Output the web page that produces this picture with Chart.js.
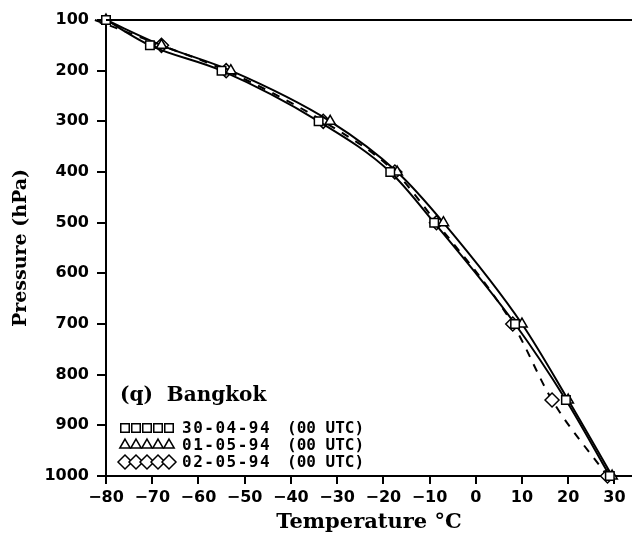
<!DOCTYPE html>
<html>
<head>
<meta charset="utf-8">
<script src="https://cdn.jsdelivr.net/npm/chart.js@4/dist/chart.umd.min.js"></script>
<style>
html,body{margin:0;padding:0;background:#fff;}
#wrap{width:632px;height:539px;position:relative;}
</style>
</head>
<body>
<div id="wrap"><canvas id="c" width="632" height="539"></canvas></div>
<script>
// Pressure levels (hPa)
const pressure = [100, 150, 200, 300, 400, 500, 700, 850, 1000];
// Temperatures (°C) per sounding
const temp_30_04_94 = [-80, -70.5, -55, -34, -18.5, -9, 8.5, 19.5, 29];
const temp_01_05_94 = [-80, -68, -53, -31.5, -17, -7, 10, 20, 29.5];
const temp_02_05_94 = [-82.4, -68, -54, -33, -17.5, -8.5, 8, 16.5, 28.5];
const seriesLabels = ['30-04-94', '01-05-94', '02-05-94'];
const xTickValues = [-80, -70, -60, -50, -40, -30, -20, -10, 0, 10, 20, 30];
const stationLabel = '(q)  Bangkok';

function pts(arr){ return arr.map((t,i)=>({x:t, y:pressure[i]})); }

const topLine = {
  id:'topLine',
  afterDatasetsDraw(chart){
    const {ctx, chartArea:a} = chart;
    ctx.save();
    ctx.strokeStyle='#000'; ctx.lineWidth=2;
    ctx.beginPath(); ctx.moveTo(a.left, a.top); ctx.lineTo(a.right, a.top); ctx.stroke();
    ctx.restore();
  }
};

const inLegend = {
  id:'inLegend',
  afterDraw(chart){
    const ctx = chart.ctx;
    ctx.save();
    ctx.fillStyle='#000';
    ctx.textBaseline='alphabetic';
    ctx.font='bold 20px "DejaVu Serif"';
    ctx.fillText(stationLabel, 120, 401);
    const rowsY=[428,445,462];
    chart.data.datasets.forEach((ds,i)=>{
      const y=rowsY[i];
      ctx.strokeStyle='#000'; ctx.fillStyle='#fff'; ctx.lineWidth=1.5;
      for(let k=0;k<5;k++){
        Chart.helpers.drawPoint(ctx,{pointStyle:ds.pointStyle, radius:ds.pointStyle==='rectRot'?7:6, borderWidth:1.5}, 125+k*11, y);
      }
      ctx.fillStyle='#000';
      ctx.textBaseline='middle';
      ctx.font='bold 16px "DejaVu Sans Mono"';
      try { ctx.letterSpacing='1.5px'; } catch(e) {}
      ctx.fillText(ds.label, 182, y+1);
      try { ctx.letterSpacing='0px'; } catch(e) {}
      ctx.fillText('(00 UTC)', 287, y+1);
    });
    ctx.restore();
  }
};

const mk = (label, data, style, dash, width) => ({
  label, data: pts(data), pointStyle: style,
  borderColor:'#000', backgroundColor:'#fff', pointBorderColor:'#000', pointBackgroundColor:'#fff',
  borderWidth: width, borderDash: dash, pointRadius: style==='rectRot'?7:6, pointBorderWidth:1.5,
  cubicInterpolationMode:'monotone', clip:false, showLine:true
});

new Chart(document.getElementById('c'), {
  type:'line',
  data:{ datasets:[
    mk(seriesLabels[0], temp_30_04_94, 'rect', [], 2),
    mk(seriesLabels[1], temp_01_05_94, 'triangle', [], 2),
    mk(seriesLabels[2], temp_02_05_94, 'rectRot', [8,8], 2)
  ]},
  options:{
    responsive:false, animation:false, devicePixelRatio:1,
    layout:{autoPadding:false, padding:{top:20, right:0, left:0, bottom:0}},
    plugins:{legend:{display:false}, tooltip:{enabled:false}},
    scales:{
      x:{ type:'linear', min:-80, max:33.8,
        afterBuildTicks(ax){ ax.ticks = xTickValues.map(v=>({value:v})); },
        afterFit(ax){ ax.height = 63; ax.paddingRight = 0; ax.paddingLeft = 0; },
        ticks:{ color:'#000', font:{family:'DejaVu Sans', weight:'bold', size:16}, padding:4, maxRotation:0, autoSkip:false,
          callback:v=> v<0 ? '\u2212'+Math.abs(v) : String(v) },
        grid:{ drawOnChartArea:false, drawTicks:true, tickLength:8, color:'#000', lineWidth:2 },
        border:{ color:'#000', width:2 },
        title:{ display:true, text:'Temperature \u00B0C', color:'#000', font:{family:'DejaVu Serif', weight:'bold', size:21}, padding:{top:0,bottom:4} }
      },
      y:{ type:'linear', reverse:true, min:100, max:1000,
        afterFit(ax){ ax.width = 106; ax.paddingTop = 0; ax.paddingBottom = 0; },
        ticks:{ stepSize:100, color:'#000', font:{family:'DejaVu Sans', weight:'bold', size:16}, padding:8,
          callback:v=> String(v) },
        grid:{ drawOnChartArea:false, drawTicks:true, tickLength:9, color:'#000', lineWidth:2 },
        border:{ color:'#000', width:2 },
        title:{ display:true, text:'Pressure (hPa)', color:'#000', font:{family:'DejaVu Serif', weight:'bold', size:19}, padding:{top:10,bottom:0} }
      }
    }
  },
  plugins:[topLine, inLegend]
});
</script>
</body>
</html>
